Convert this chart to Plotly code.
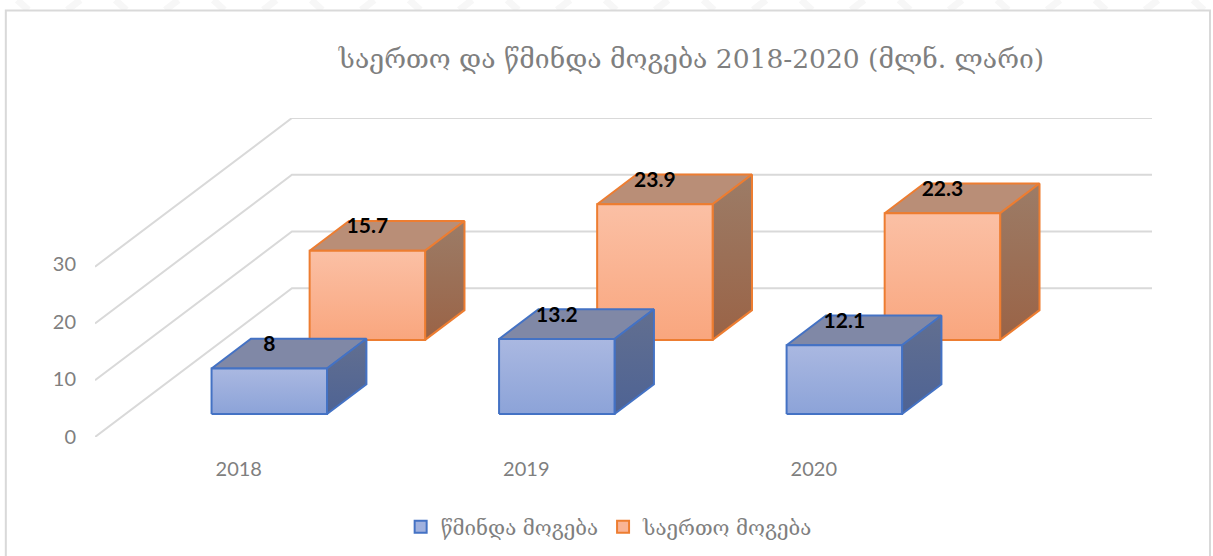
import plotly.graph_objects as go

categories = ["2018", "2019", "2020"]
net_profit = [8, 13.2, 12.1]
total_profit = [15.7, 23.9, 22.3]
net_name = "წმინდა მოგება"
total_name = "საერთო მოგება"
title_text = "საერთო და წმინდა მოგება 2018-2020 (მლნ. ლარი)"
value_ticks = [0, 10, 20, 30]

W, H = 1213, 556
L, R, T, B = 94.7, 1152, 118, 437
CAT_PX = 287.6
VAL_PX = 5.67
DX = 197 / CAT_PX          # depth of the floor, in category units
DY = 148.5 / VAL_PX        # depth of the floor, in value units
BAR_W = 0.4016
BAR_D = 0.2
X_MAX = (R - L) / CAT_PX
GEO = "DejaVu Serif"
SANS = "Lato"
GREY = "#7f7f7f"
GRID = "#d9d9d9"
pw = R - L
ph = B - T


def px(x):
    return (x - L) / pw


def py(y):
    return (B - y) / ph


def proj(c, v, d):
    return c + d * DX, v + d * DY


def poly(points, line, col, grad=None, fill=None):
    xs, ys = zip(*[proj(*p) for p in points + points[:1]])
    kw = dict(x=xs, y=ys, mode="lines", fill="toself", hoverinfo="skip",
              showlegend=False, cliponaxis=False,
              line=dict(color=col, width=line))
    if grad:
        kw["fillgradient"] = dict(type="vertical", colorscale=[[0, grad[0]], [1, grad[1]]])
    else:
        kw["fillcolor"] = fill
    return go.Scatter(**kw)


def box(i, val, d0, col, front, side, top):
    c0 = i + 0.5 - BAR_W / 2
    c1 = c0 + BAR_W
    d1 = d0 + BAR_D
    return [
        poly([(c0, val, d0), (c1, val, d0), (c1, val, d1), (c0, val, d1)], 2, col, fill=top),
        poly([(c1, 0, d0), (c1, 0, d1), (c1, val, d1), (c1, val, d0)], 2, col, grad=side),
        poly([(c0, 0, d0), (c1, 0, d0), (c1, val, d0), (c0, val, d0)], 2, col, grad=front),
    ]


fig = go.Figure()

for v in value_ticks:
    xs, ys = zip(proj(0, v, 0), proj(0, v, 1), proj(X_MAX - DX, v, 1))
    fig.add_trace(go.Scatter(x=xs, y=ys, mode="lines", hoverinfo="skip", showlegend=False,
                             cliponaxis=False, line=dict(color=GRID, width=2)))

ORANGE = dict(col="#ed7d31", front=("#f9a67e", "#fbc0a5"), side=("#9a6346", "#9c7c67"), top="#b98e77")
BLUE = dict(col="#4472c4", front=("#8ca3d8", "#aab8e1"), side=("#4e6394", "#626f90"), top="#8088a6")

for i, v in enumerate(total_profit):
    for t in box(i, v, 0.653, **ORANGE):
        fig.add_trace(t)
for i, v in enumerate(net_profit):
    for t in box(i, v, 0.155, **BLUE):
        fig.add_trace(t)

for vals, d0 in ((total_profit, 0.653), (net_profit, 0.155)):
    pts = [proj(i + 0.5, v + 4.0, d0) for i, v in enumerate(vals)]
    fig.add_trace(go.Scatter(x=[p[0] for p in pts], y=[p[1] for p in pts], mode="text",
                             text=[str(v) for v in vals], hoverinfo="skip", showlegend=False,
                             cliponaxis=False,
                             textfont=dict(family=SANS, size=21, color="black", weight="bold")))

# invisible carrier for the value-axis labels, which sit on a slightly wider spacing
fig.add_trace(go.Scatter(x=[0] * len(value_ticks), y=value_ticks, yaxis="y2", mode="markers",
                         marker=dict(opacity=0), hoverinfo="skip", showlegend=False))

fig.add_trace(go.Bar(x=[None], y=[None], name=net_name,
                     marker=dict(color="#a0b1de", line=dict(color="#4472c4", width=2))))
fig.add_trace(go.Bar(x=[None], y=[None], name=total_name,
                     marker=dict(color="#f9b496", line=dict(color="#ed7d31", width=2))))

# faint slide decoration showing above the chart frame
for k in range(13):
    x0 = 17 + 98 * k
    for a, b in ((x0, x0 + 11), (x0 + 63, x0 + 50)):
        fig.add_shape(type="line", xref="paper", yref="paper", layer="below",
                      x0=px(a), x1=px(b), y0=py(0), y1=py(10),
                      line=dict(color="#f7f7f7", width=7))

fig.add_shape(type="rect", xref="paper", yref="paper",
              x0=px(5.5), x1=px(1210), y0=py(570), y1=py(10.5),
              line=dict(color=GRID, width=2), fillcolor="white", layer="below")

fig.update_layout(
    width=W, height=H, autosize=False,
    margin=dict(l=L, r=W - R, t=T, b=H - B, pad=0, autoexpand=False),
    paper_bgcolor="white", plot_bgcolor="rgba(0,0,0,0)",
    title=dict(text=title_text, x=691.5 / W, xanchor="center", y=1 - 59 / H, yanchor="middle",
               font=dict(family=GEO, size=26.5, color=GREY)),
    showlegend=True,
    legend=dict(orientation="h", x=px(609), xanchor="center",
                y=py(527), yanchor="middle",
                font=dict(family=GEO, size=20.5, color=GREY), bgcolor="rgba(0,0,0,0)"),
    xaxis=dict(range=[0, X_MAX], tickmode="array", tickvals=[0.5, 1.5, 2.5], ticktext=categories,
               showgrid=False, zeroline=False, showline=False, ticks="", ticklabelstandoff=18,
               tickfont=dict(family=SANS, size=20, color=GREY)),
    yaxis=dict(range=[0, 30 + DY], showticklabels=False,
               showgrid=False, zeroline=False, showline=False, ticks=""),
    yaxis2=dict(range=[0, 55.3], overlaying="y", side="left", anchor="x",
                tickmode="array", tickvals=value_ticks,
                showgrid=False, zeroline=False, showline=False, ticks="", ticklabelstandoff=18,
                tickfont=dict(family=SANS, size=20, color=GREY)),
)

fig.write_html("out.html", config={"displayModeBar": False},
               post_script="document.body.style.margin='0';")
